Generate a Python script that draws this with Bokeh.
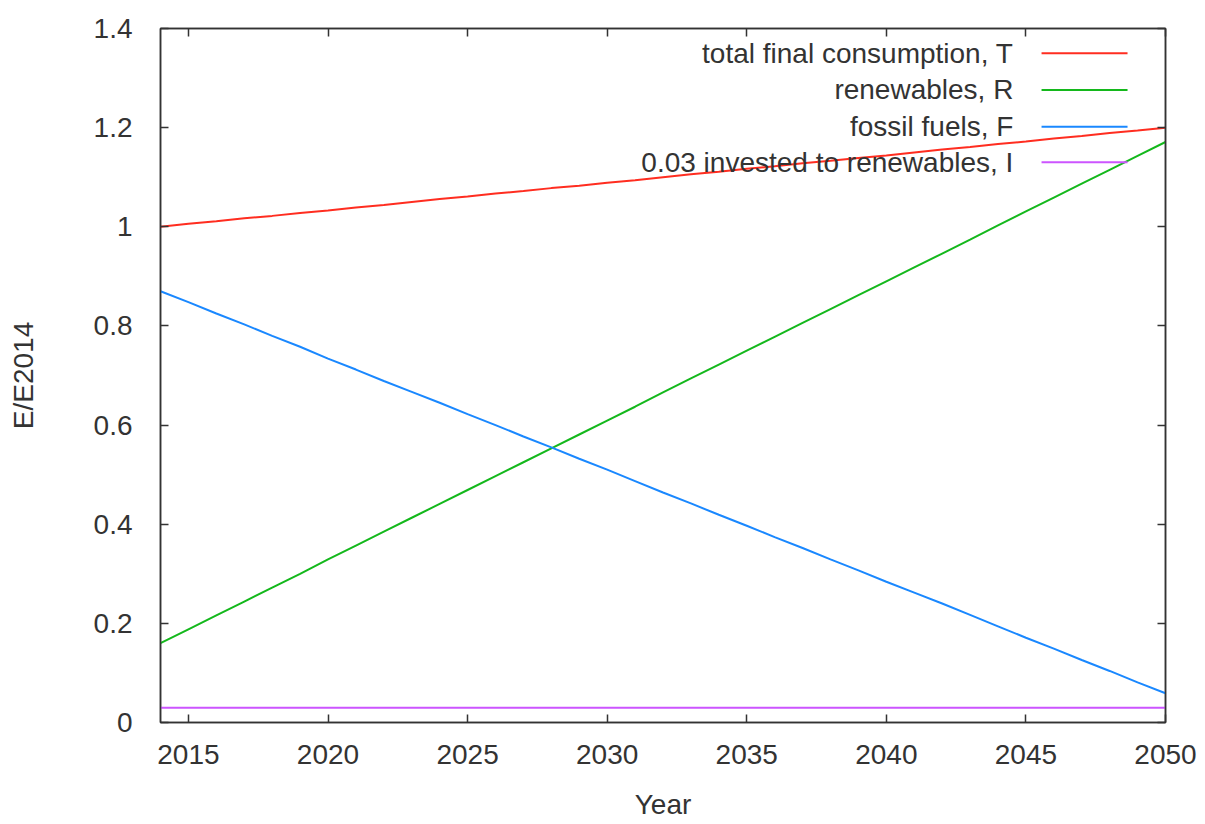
from bokeh.plotting import figure
from bokeh.models import (Range1d, LinearAxis, FixedTicker, NumeralTickFormatter,
                          ColumnDataSource, CustomLabelingPolicy)
from bokeh.core.properties import value
from bokeh.embed import file_html
from bokeh.resources import INLINE

# Energy scenario 2014-2050, normalised to 2014 final consumption
years = list(range(2014, 2051))

total_T = [1.000, 1.006, 1.011, 1.017, 1.022, 1.028, 1.033, 1.039, 1.044, 1.050,
           1.056, 1.061, 1.067, 1.072, 1.078, 1.083, 1.089, 1.094, 1.100, 1.106,
           1.111, 1.117, 1.122, 1.128, 1.133, 1.139, 1.144, 1.150, 1.156, 1.161,
           1.167, 1.172, 1.178, 1.183, 1.189, 1.194, 1.200]

renew_R = [0.160, 0.188, 0.216, 0.244, 0.272, 0.300, 0.329, 0.357, 0.385, 0.413,
           0.441, 0.469, 0.497, 0.525, 0.553, 0.581, 0.609, 0.637, 0.666, 0.694,
           0.722, 0.750, 0.778, 0.806, 0.834, 0.862, 0.890, 0.918, 0.946, 0.974,
           1.003, 1.031, 1.059, 1.087, 1.115, 1.143, 1.171]

fossil_F = [0.870, 0.848, 0.825, 0.803, 0.780, 0.758, 0.734, 0.712, 0.689, 0.667,
            0.645, 0.622, 0.600, 0.577, 0.555, 0.532, 0.510, 0.487, 0.464, 0.442,
            0.419, 0.397, 0.374, 0.352, 0.329, 0.307, 0.284, 0.262, 0.240, 0.217,
            0.194, 0.171, 0.149, 0.126, 0.104, 0.081, 0.059]

invest_I = [0.03] * len(years)

series_labels = ["total final consumption, T", "renewables, R",
                 "fossil fuels, F", "0.03 invested to renewables, I"]
series_colors = ["#ff2d20", "#14b81c", "#1a88ff", "#cc55ff"]

x_ticks = [2015, 2020, 2025, 2030, 2035, 2040, 2045, 2050]
y_ticks = [0, 0.2, 0.4, 0.6, 0.8, 1.0, 1.2, 1.4]

FONT = "Liberation Sans"
FSIZE = "28px"
TXT = "#333333"
AX = "#333333"

p = figure(width=1205, height=824,
           x_range=Range1d(2014, 2050), y_range=Range1d(0, 1.4),
           output_backend="svg", toolbar_location=None,
           min_border_left=160, min_border_right=40,
           min_border_top=28, min_border_bottom=102)
p.grid.visible = False
p.outline_line_color = AX
p.outline_line_width = 1.5
p.background_fill_color = "white"
p.border_fill_color = "white"

# policy that keeps no tick labels (used for the mirrored top/right axes)
no_labels = CustomLabelingPolicy(code="""
    for (let i = 0; i < indices.size; i++) indices.unset(i)
    return indices
""")


def style_axis(ax, ticks, show_labels):
    ax.ticker = FixedTicker(ticks=ticks)
    ax.axis_line_color = AX
    ax.axis_line_width = 1.5
    ax.major_tick_line_color = AX
    ax.major_tick_line_width = 1.5
    ax.major_tick_in = 8
    ax.major_tick_out = 0
    ax.minor_tick_line_color = None
    ax.major_label_text_font = FONT
    ax.major_label_text_color = TXT
    ax.axis_label_text_font = FONT
    ax.axis_label_text_font_size = FSIZE
    ax.axis_label_text_font_style = "normal"
    ax.axis_label_text_color = TXT
    if show_labels:
        ax.major_label_text_font_size = FSIZE
    else:
        ax.major_label_text_font_size = "1px"
        ax.major_label_standoff = 0
        ax.major_label_policy = no_labels


xa = p.xaxis[0]
ya = p.yaxis[0]
style_axis(xa, x_ticks, True)
style_axis(ya, y_ticks, True)
ya.formatter = NumeralTickFormatter(format="0.[0]")
xa.axis_label = "Year"
ya.axis_label = "E/E2014"
xa.major_label_standoff = 22
xa.axis_label_standoff = 22
ya.major_label_standoff = 28
ya.axis_label_standoff = 52

# mirrored ticks on the top and right edges
top_ax = LinearAxis()
right_ax = LinearAxis()
style_axis(top_ax, x_ticks, False)
style_axis(right_ax, y_ticks, False)
p.add_layout(top_ax, "above")
p.add_layout(right_ax, "right")

# data curves
for vals, col in zip([total_T, renew_R, fossil_F, invest_I], series_colors):
    p.line(years, vals, line_color=col, line_width=2)

# key in the upper right corner: label text, then a line sample
key_text_x = 2044.55
key_line_x0 = 2045.56
key_line_x1 = 2048.64
key_rows = [1.350, 1.276, 1.202, 1.130]
key_src = ColumnDataSource(dict(
    tx=[key_text_x] * 4, x0=[key_line_x0] * 4, x1=[key_line_x1] * 4,
    y=key_rows, label=series_labels, color=series_colors))
p.text(x="tx", y="y", text="label", source=key_src,
       text_align="right", text_baseline="middle",
       text_font=value(FONT), text_font_size=FSIZE, text_color=TXT)
p.segment(x0="x0", y0="y", x1="x1", y1="y", source=key_src,
          line_color="color", line_width=2)

open("out.html", "w").write(file_html(p, INLINE))
